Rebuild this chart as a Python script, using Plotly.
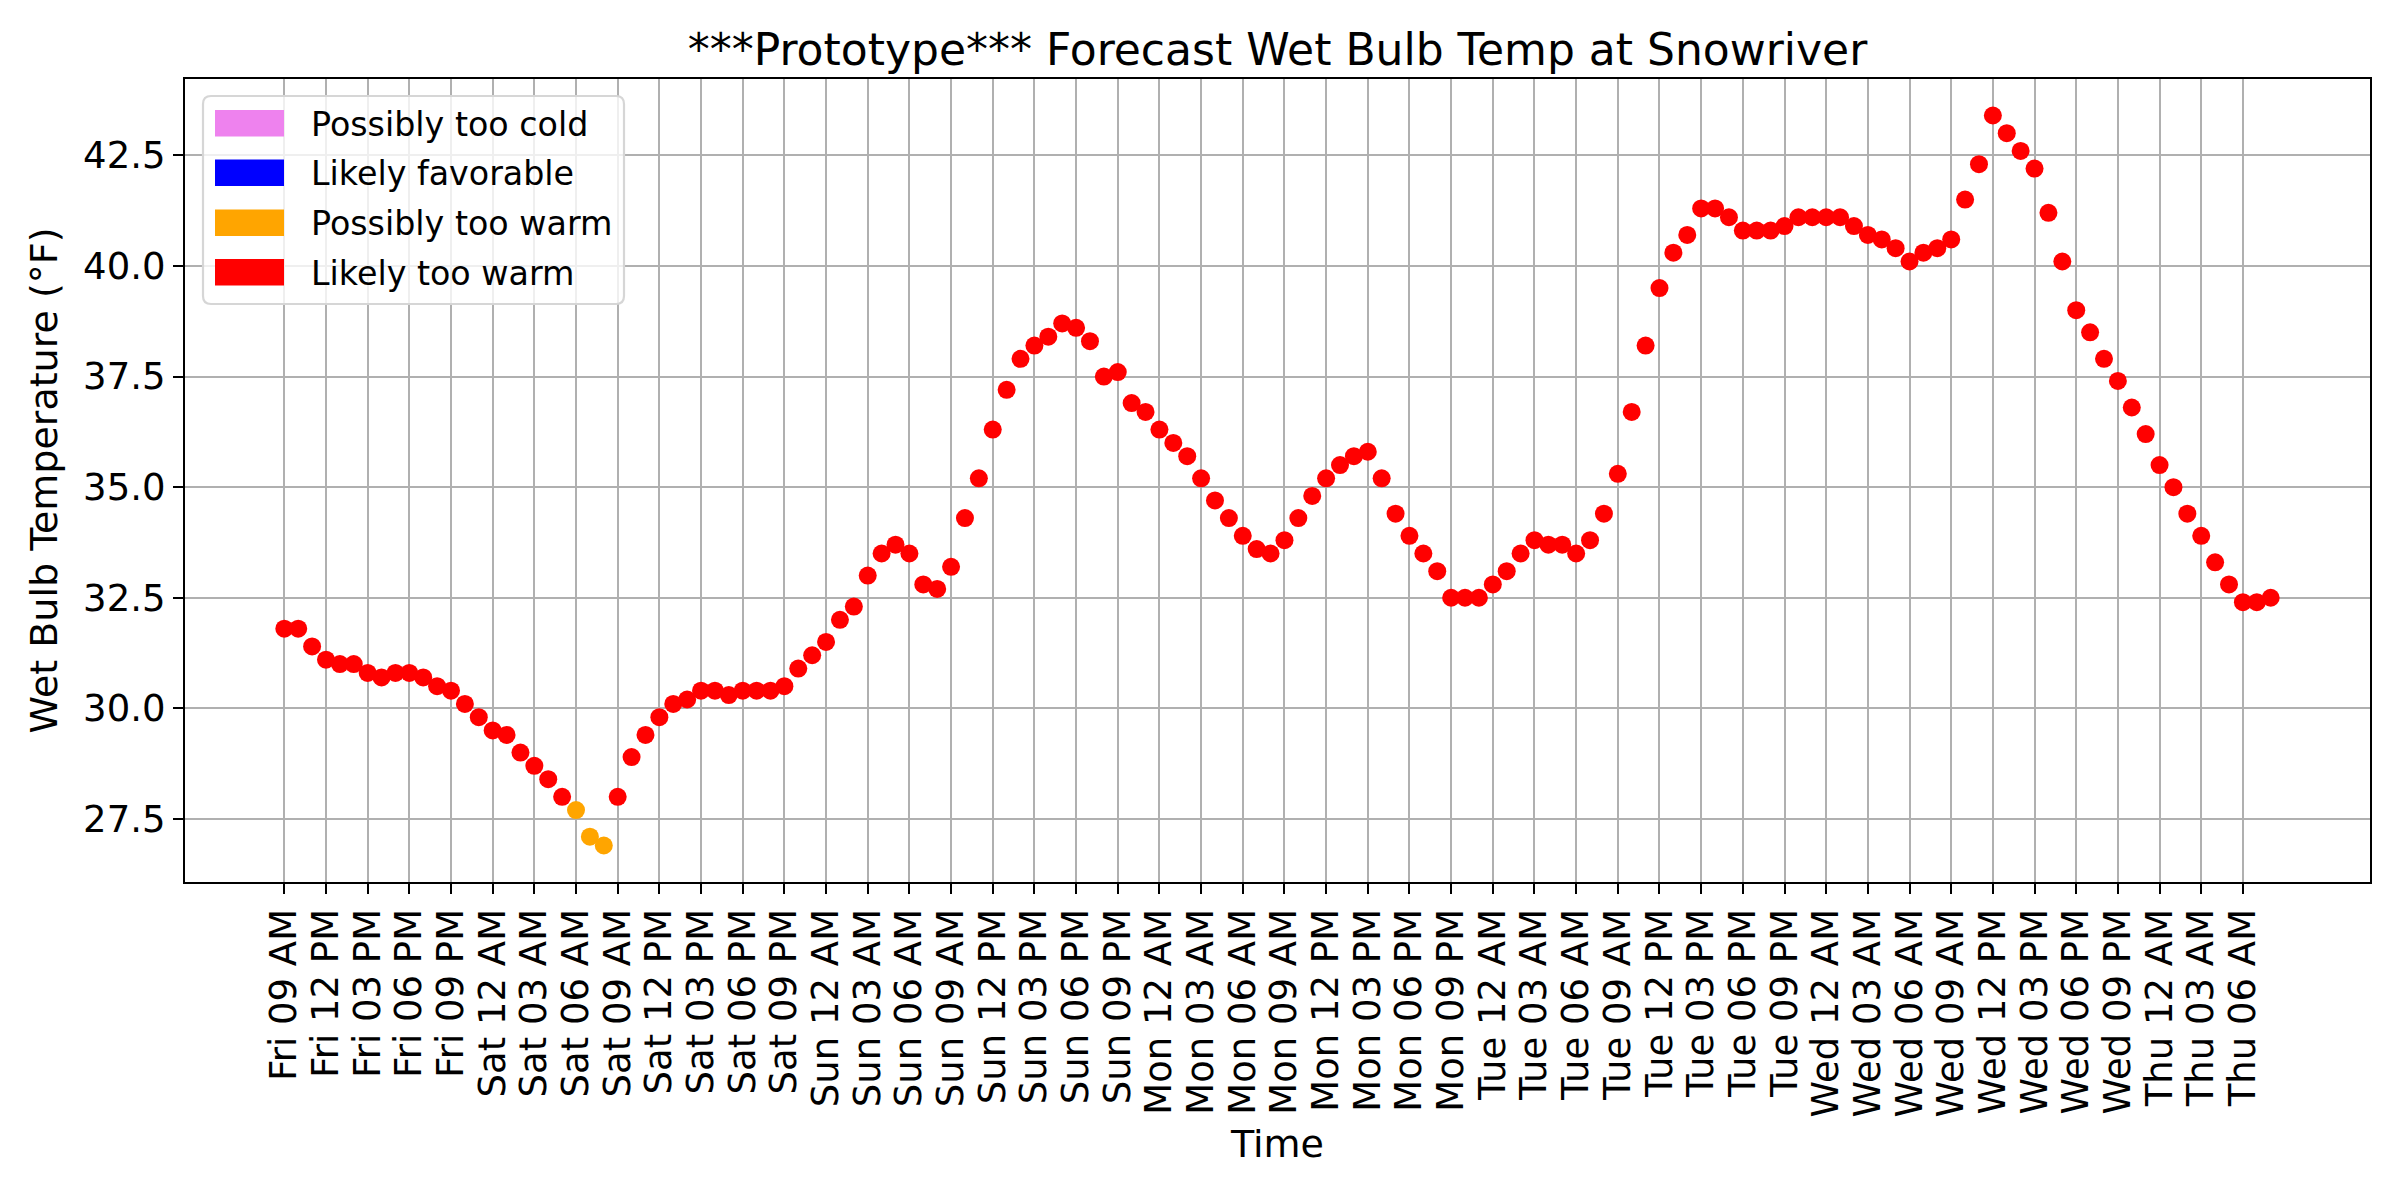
import plotly.graph_objects as go
import pandas as pd

# ---- data ----
start_time = "2024-01-05 09:00"  # a Friday, 09 AM
wet_bulb = [
    31.8, 31.8, 31.4, 31.1, 31.0, 31.0, 30.8, 30.7, 30.8, 30.8, 30.7, 30.5,
    30.4, 30.1, 29.8, 29.5, 29.4, 29.0, 28.7, 28.4, 28.0, 27.7, 27.1, 26.9,
    28.0, 28.9, 29.4, 29.8, 30.1, 30.2, 30.4, 30.4, 30.3, 30.4, 30.4, 30.4,
    30.5, 30.9, 31.2, 31.5, 32.0, 32.3, 33.0, 33.5, 33.7, 33.5, 32.8, 32.7,
    33.2, 34.3, 35.2, 36.3, 37.2, 37.9, 38.2, 38.4, 38.7, 38.6, 38.3, 37.5,
    37.6, 36.9, 36.7, 36.3, 36.0, 35.7, 35.2, 34.7, 34.3, 33.9, 33.6, 33.5,
    33.8, 34.3, 34.8, 35.2, 35.5, 35.7, 35.8, 35.2, 34.4, 33.9, 33.5, 33.1,
    32.5, 32.5, 32.5, 32.8, 33.1, 33.5, 33.8, 33.7, 33.7, 33.5, 33.8, 34.4,
    35.3, 36.7, 38.2, 39.5, 40.3, 40.7, 41.3, 41.3, 41.1, 40.8, 40.8, 40.8,
    40.9, 41.1, 41.1, 41.1, 41.1, 40.9, 40.7, 40.6, 40.4, 40.1, 40.3, 40.4,
    40.6, 41.5, 42.3, 43.4, 43.0, 42.6, 42.2, 41.2, 40.1, 39.0, 38.5, 37.9,
    37.4, 36.8, 36.2, 35.5, 35.0, 34.4, 33.9, 33.3, 32.8, 32.4, 32.4, 32.5,
]
times = pd.date_range(start_time, periods=len(wet_bulb), freq="h")

category_names = ["Possibly too cold", "Likely favorable", "Possibly too warm", "Likely too warm"]
category_colors = ["violet", "blue", "orange", "red"]
category_upper = [24.0, 26.0, 28.0, 99.0]  # upper bound (exclusive) of each class


def classify(v):
    for i, ub in enumerate(category_upper):
        if v < ub:
            return i
    return len(category_upper) - 1


point_colors = [category_colors[classify(v)] for v in wet_bulb]

tick_times = list(times[::3])  # every 3 hours
tick_labels = [t.strftime("%a %I %p") for t in tick_times]

# ---- layout geometry (pixels) ----
W, H = 2400, 1200
L, R, T, B = 185, 30, 79, 318
PW, PH = W - L - R, H - T - B
FONT = "DejaVu Sans"


def px_x(x):
    return (x - L) / PW


def px_y(y):
    return (H - B - y) / PH


fig = go.Figure()
fig.add_trace(go.Scatter(
    x=times, y=wet_bulb, mode="markers",
    marker=dict(color=point_colors, size=18, line=dict(width=0)),
    showlegend=False, hoverinfo="x+y",
))

# x range with 5% margins like matplotlib
span = times[-1] - times[0]
pad = span * 0.05
ymin, ymax = min(wet_bulb), max(wet_bulb)
ypad = (ymax - ymin) * 0.05

axis_common = dict(
    showline=True, linecolor="black", linewidth=2.2, mirror=True,
    ticks="outside", ticklen=10, tickwidth=2.2, tickcolor="black",
    showgrid=True, gridcolor="#b0b0b0", gridwidth=1.6, zeroline=False,
    tickfont=dict(family=FONT, size=37, color="black"),
)

fig.update_xaxes(
    range=[times[0] - pad, times[-1] + pad],
    tickmode="array", tickvals=tick_times, ticktext=tick_labels,
    tickangle=-90,
    title=dict(text="Time", font=dict(family=FONT, size=38, color="black"), standoff=14),
    **axis_common,
)
fig.update_yaxes(
    range=[ymin - ypad, ymax + ypad],
    tickmode="array", tickvals=[27.5, 30.0, 32.5, 35.0, 37.5, 40.0, 42.5],
    ticktext=["27.5", "30.0", "32.5", "35.0", "37.5", "40.0", "42.5"],
    title=dict(text="Wet Bulb Temperature (°F)", font=dict(family=FONT, size=38, color="black"), standoff=14),
    **axis_common,
)

# ---- manual legend (matplotlib style, patches) ----
shapes = []
annotations = []
bx0, bx1, by0, by1 = 203, 624, 96, 304
r = 8
rx, ry = r / PW, r / PH
X0, X1, Y0, Y1 = px_x(bx0), px_x(bx1), px_y(by1), px_y(by0)
path = (f"M {X0+rx},{Y0} L {X1-rx},{Y0} Q {X1},{Y0} {X1},{Y0+ry} "
        f"L {X1},{Y1-ry} Q {X1},{Y1} {X1-rx},{Y1} L {X0+rx},{Y1} "
        f"Q {X0},{Y1} {X0},{Y1-ry} L {X0},{Y0+ry} Q {X0},{Y0} {X0+rx},{Y0} Z")
shapes.append(dict(type="path", xref="paper", yref="paper", path=path,
                   fillcolor="rgba(255,255,255,0.8)", line=dict(color="#d6d6d6", width=2.2),
                   layer="above"))
row_centers = [123.3, 172.8, 222.8, 272.3]
for name, col, yc in zip(category_names, category_colors, row_centers):
    shapes.append(dict(type="rect", xref="paper", yref="paper",
                       x0=px_x(215), x1=px_x(284), y0=px_y(yc + 13.3), y1=px_y(yc - 13.3),
                       fillcolor=col, line=dict(width=0), layer="above"))
    annotations.append(dict(text=name, xref="paper", yref="paper", x=px_x(309), y=px_y(yc + 1),
                            xanchor="left", yanchor="middle", showarrow=False,
                            font=dict(family=FONT, size=33.3, color="black")))

fig.update_layout(
    width=W, height=H,
    margin=dict(l=L, r=R, t=T, b=B, pad=0),
    paper_bgcolor="white", plot_bgcolor="white",
    title=dict(text="***Prototype*** Forecast Wet Bulb Temp at Snowriver",
               font=dict(family=FONT, size=44, color="black"),
               x=(L + PW / 2) / W, xanchor="center", xref="container",
               y=1 - 50 / H, yanchor="middle", yref="container"),
    shapes=shapes, annotations=annotations,
    showlegend=False,
)

fig.write_html("out.html", config={"displayModeBar": False},
               post_script="document.body.style.margin='0';document.body.style.overflow='hidden';")
